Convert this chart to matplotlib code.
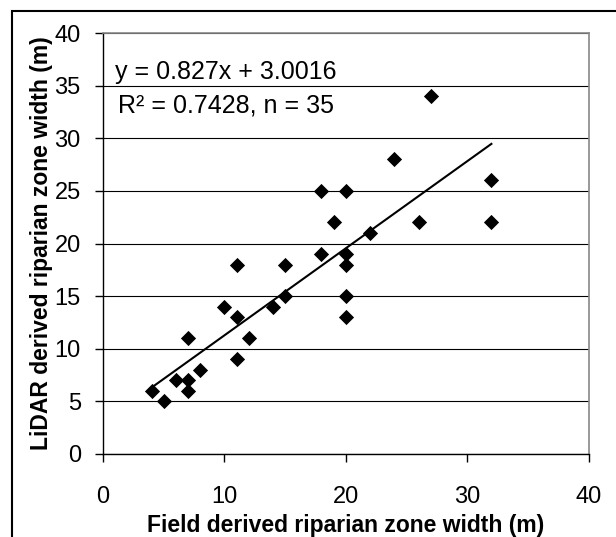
import matplotlib
matplotlib.use('Agg')
import matplotlib.pyplot as plt
import numpy as np
from matplotlib.patches import Rectangle

plt.rcParams['font.family'] = ['Liberation Sans', 'DejaVu Sans']

# Field vs LiDAR derived riparian zone widths (m)
field_width = [4, 5, 6, 7, 7, 7, 8, 10, 11, 11, 11, 12, 14, 15, 15,
               18, 18, 19, 20, 20, 20, 20, 20, 22, 24, 26, 27, 32, 32]
lidar_width = [6, 5, 7, 11, 7, 6, 8, 14, 18, 13, 9, 11, 14, 18, 15,
               25, 19, 22, 25, 19, 18, 15, 13, 21, 28, 22, 34, 26, 22]

slope = 0.827
intercept = 3.0016
eq_label = 'y = 0.827x + 3.0016'
stats_label = 'R² = 0.7428, n = 35'

ticks = [0, 5, 10, 15, 20, 25, 30, 35, 40]
xticks = [0, 10, 20, 30, 40]

W, H = 616, 537
fig = plt.figure(figsize=(W / 100, H / 100), dpi=100)
fig.patch.set_facecolor('white')

# outer chart frame (cut off at right and bottom in the original)
fig.patches.append(Rectangle((12 / W, -0.2), 1.2, 1 - 11 / H + 0.2,
                             transform=fig.transFigure, fill=False,
                             edgecolor='black', linewidth=1.5))

ax = fig.add_axes([103 / W, (H - 454) / H, (588.5 - 103) / W, (454 - 33) / H])

x = np.array(field_width)
y = np.array(lidar_width)
ax.scatter(x, y, marker='D', s=60, color='black', zorder=3, linewidths=0)

xs = np.array([x.min(), x.max()])
ax.plot(xs, slope * xs + intercept, color='black', linewidth=1.5, zorder=2)

ax.set_xlim(0, 40)
ax.set_ylim(0, 40)
ax.set_xticks(xticks)
ax.set_yticks(ticks)
ax.grid(axis='y', color='black', linewidth=0.8)
ax.set_axisbelow(True)

for side in ['top', 'right']:
    ax.spines[side].set_color('#888888')
    ax.spines[side].set_linewidth(1.2)
for side in ['left', 'bottom']:
    ax.spines[side].set_color('black')
    ax.spines[side].set_linewidth(1.0)

ax.tick_params(axis='y', direction='out', length=6, width=1, pad=10, labelsize=17)
ax.tick_params(axis='x', direction='out', length=6, width=1, pad=17, labelsize=17)

ax.text(0.253, 0.907, eq_label, transform=ax.transAxes, ha='center', va='center', fontsize=18)
ax.text(0.253, 0.827, stats_label, transform=ax.transAxes, ha='center', va='center', fontsize=18)

ax.set_xlabel('Field derived riparian zone width (m)', fontsize=16.5, fontweight='bold')
ax.set_ylabel('LiDAR derived riparian zone width (m)', fontsize=16.5, fontweight='bold')
ax.xaxis.set_label_coords(0.5, -0.142)
ax.yaxis.set_label_coords(-0.104, 0.5)

fig.savefig('out.png', dpi=100)
